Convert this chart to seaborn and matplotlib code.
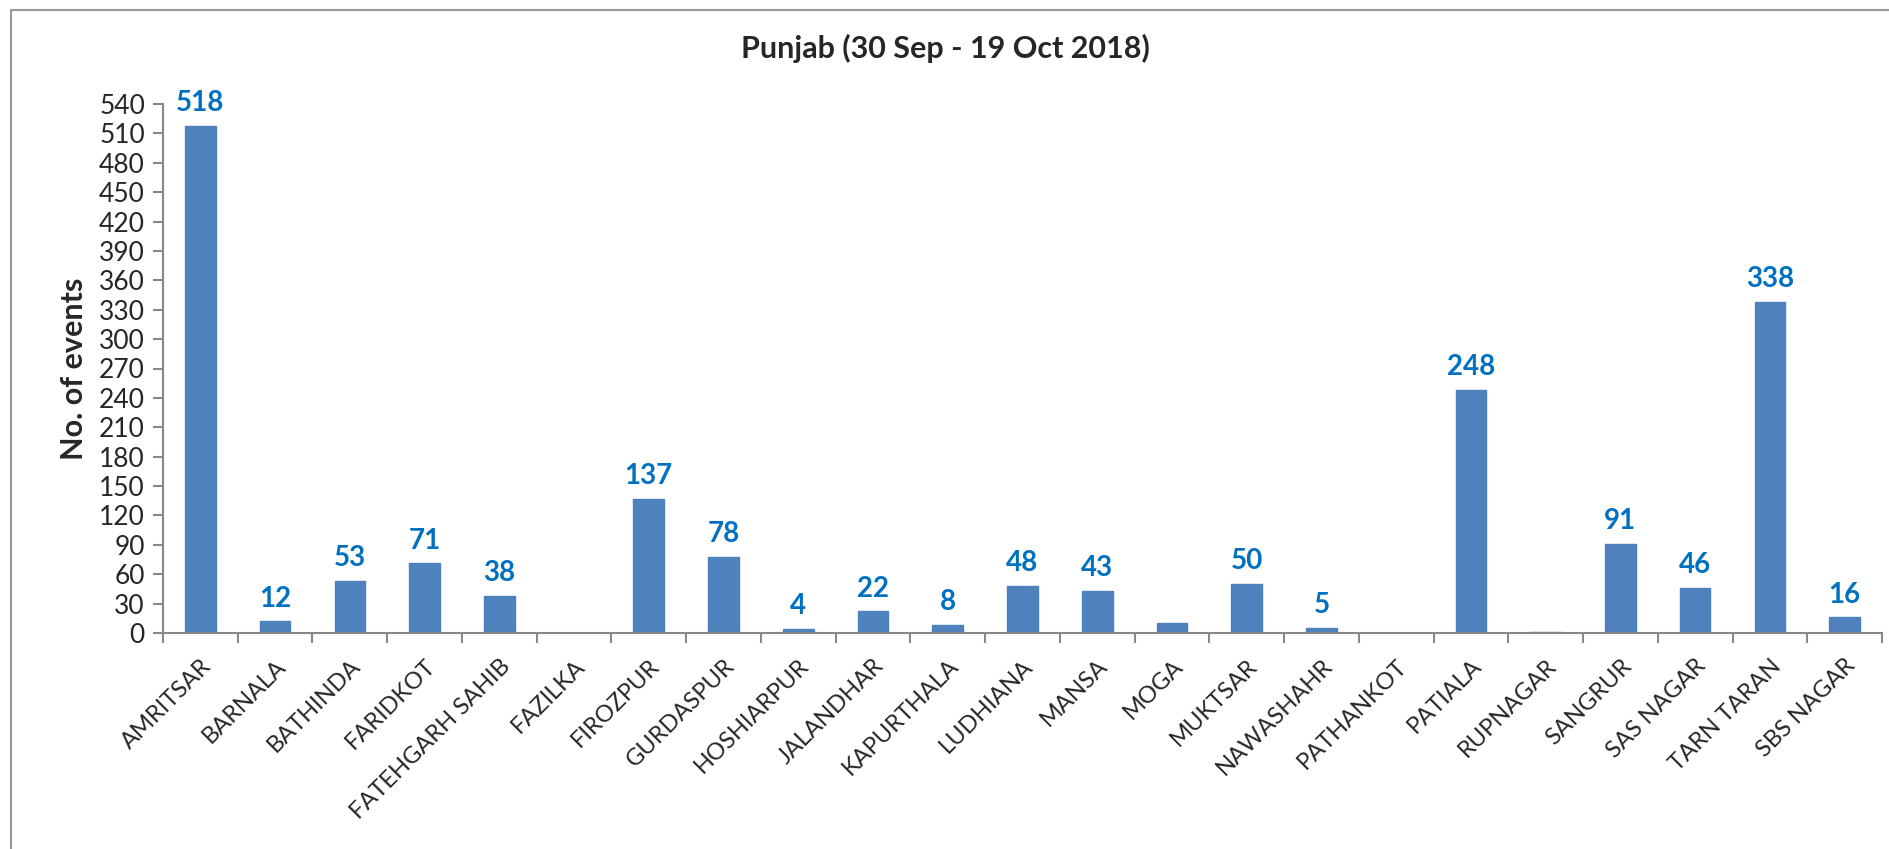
import matplotlib
matplotlib.use("Agg")
import matplotlib.pyplot as plt
import seaborn as sns
import pandas as pd
from matplotlib.lines import Line2D

districts = ["AMRITSAR", "BARNALA", "BATHINDA", "FARIDKOT", "FATEHGARH SAHIB", "FAZILKA",
             "FIROZPUR", "GURDASPUR", "HOSHIARPUR", "JALANDHAR", "KAPURTHALA", "LUDHIANA",
             "MANSA", "MOGA", "MUKTSAR", "NAWASHAHR", "PATHANKOT", "PATIALA", "RUPNAGAR",
             "SANGRUR", "SAS NAGAR", "TARN TARAN", "SBS NAGAR"]
events = [518, 12, 53, 71, 38, 0, 137, 78, 4, 22, 8, 48, 43, 10, 50, 5, 0, 248, 1, 91, 46, 338, 16]
labels = ["518", "12", "53", "71", "38", "", "137", "78", "4", "22", "8", "48", "43", "",
          "50", "5", "", "248", "", "91", "46", "338", "16"]
yticks = list(range(0, 541, 30))
title = "Punjab (30 Sep - 19 Oct 2018)"
ylabel = "No. of events"

sns.set_theme(style="white")
plt.rcParams['font.family'] = ['Lato', 'DejaVu Sans']

df = pd.DataFrame({"district": districts, "events": events})

fig = plt.figure(figsize=(18.9, 8.49), dpi=100)
ax = fig.add_axes([163/1890, 1 - 633/849, (1882-163)/1890, (633-104)/849])
sns.barplot(data=df, x="district", y="events", color="#4F81BD", saturation=1,
            width=0.41, ax=ax, edgecolor="#4F81BD")

ax.set_ylim(0, 540)
ax.set_xlim(-0.5, len(districts) - 0.5)
ax.set_yticks(yticks)
ax.set_yticklabels([str(t) for t in yticks], fontsize=19)
ax.set_xticks(range(len(districts)))
ax.set_xticklabels(districts, rotation=45, ha="right", rotation_mode="anchor", fontsize=17)
ax.tick_params(axis="x", which="major", length=0, pad=16)
ax.set_xticks([i - 0.5 for i in range(len(districts) + 1)], minor=True)
ax.tick_params(axis="x", which="minor", length=7, width=1.5, color="#888888", direction="out", bottom=True)
ax.tick_params(axis="y", length=7, width=1.5, color="#888888", direction="out", left=True, pad=6)

for s in ["top", "right"]:
    ax.spines[s].set_visible(False)
for s in ["left", "bottom"]:
    ax.spines[s].set_color("#888888")
    ax.spines[s].set_linewidth(1.5)

for i, (v, lab) in enumerate(zip(events, labels)):
    if lab:
        ax.annotate(lab, (i, v), xytext=(0, 7), textcoords="offset points", ha="center",
                    va="bottom", fontsize=20, fontweight="bold", color="#0070C0")

ax.set_xlabel("")
ax.set_ylabel(ylabel, fontsize=22, fontweight="bold", labelpad=8)
fig.text(0.5, 1 - 48/849, title, ha="center", va="center", fontsize=22, fontweight="bold")

fig.add_artist(Line2D([11/1890, 11/1890], [0, 1 - 10/849], transform=fig.transFigure,
                      color="#999999", linewidth=1.5))
fig.add_artist(Line2D([11/1890, 1], [1 - 10/849, 1 - 10/849], transform=fig.transFigure,
                      color="#999999", linewidth=1.5))

fig.savefig("out.png", dpi=100)
